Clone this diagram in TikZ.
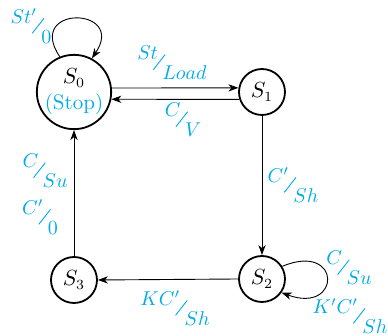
\documentclass[tikz,border=0pt]{standalone}
\usepackage{graphicx}
\usetikzlibrary{arrows.meta,calc}
\definecolor{lblue}{RGB}{0,170,235}
\newcommand{\lab}[2]{\raisebox{0.5em}{$#1$}\kern-0.25em\raisebox{0.36em}{\rotatebox[origin=c]{52}{\rule{0.95em}{0.45pt}}}\kern-0.15em\raisebox{-0.5em}{$#2$}}
\tikzset{
  state/.style={draw, circle, line width=0.9pt, inner sep=0pt, minimum size=23pt, font=\fontsize{10.5}{12.5}\selectfont},
  bigstate/.style={state, minimum size=35pt, align=center},
  edge/.style={line width=0.45pt, -{Stealth[length=5pt,width=3.6pt,inset=1.5pt]}},
  lbl/.style={text=lblue, inner sep=0pt, font=\fontsize{10}{12}\selectfont}
}
\begin{document}
\begin{tikzpicture}[x=0.5pt,y=-0.5pt]
\useasboundingbox (0,0) rectangle (388,336);
\node[bigstate] (S0) at (74,92) {$S_0$\\[0.5pt]{\color{lblue}(Stop)}};
\node[state] (S1) at (262,92) {$S_1$};
\node[state] (S2) at (262,279) {$S_2$};
\node[state] (S3) at (74,280) {$S_3$};
\draw[edge] (S0.6.6) -- (S1.170);
\draw[edge] (S1.-162.3) -- (S0.-11.5);
\draw[edge] (S1.south) -- (S2.north);
\draw[edge] (S2.west) -- (S3.east);
\draw[edge] (S3.north) -- (S0.south);
\draw[edge] (S0.112) .. controls +(-35,-52) and +(35,-52) .. (S0.62);
\draw[edge] (S2.32) .. controls +(60,-25) and +(60,22) .. (S2.-35);
\node[lbl] (l1) at (31,26) {\lab{St'}{0}};
\node[lbl] (l2) at (172,63) {\lab{St}{Load}};
\node[lbl] (l3) at (183,120) {\lab{C}{V}};
\node[lbl] (l4) at (45,171) {\lab{C}{Su}};
\node[lbl] (l5) at (40,217) {\lab{C'}{0}};
\node[lbl] (l6) at (293,185) {\lab{C'}{Sh}};
\node[lbl] (l7) at (349,268) {\lab{C}{Su}};
\node[lbl] (l8) at (350,316) {\lab{K'C'}{Sh}};
\node[lbl] (l9) at (175,308) {\lab{KC'}{Sh}};
\end{tikzpicture}
\end{document}
